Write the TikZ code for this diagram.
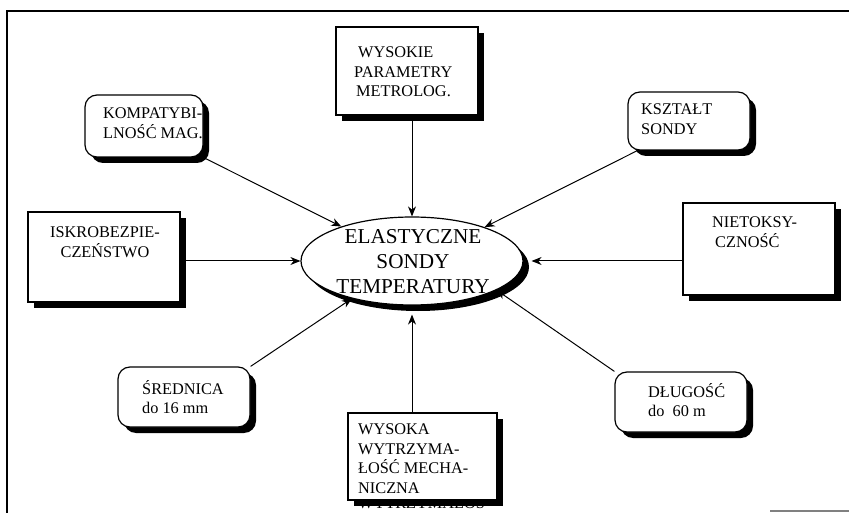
\documentclass[tikz,border=0pt]{standalone}
\usepackage{fontspec}
\setmainfont{Liberation Serif}
\usetikzlibrary{shadows,arrows.meta,shapes.geometric}
\begin{document}
\begin{tikzpicture}[x=1pt,y=-1pt,
  shadowed/.style={drop shadow={shadow xshift=6pt,shadow yshift=-6pt,fill=black,opacity=1}},
  sqbox/.style={draw=black,line width=1.2pt,fill=white,shadowed,rectangle,inner sep=0pt},
  rbox/.style={sqbox,rounded corners=12pt},
  lbl/.style={font=\fontsize{16.3}{19.5}\selectfont,inner sep=0pt},
  conn/.style={line width=1pt,-{Stealth[length=10pt,width=8pt]}},
  frameline/.style={line width=1.4pt}]
\useasboundingbox (0,0) rectangle (849,513);
% frame
\coordinate (ftr) at (849,11);
\coordinate (ftl) at (7,11);
\coordinate (fbl) at (7,513);
\draw[frameline] (ftr) -- (ftl) -- (fbl);
\coordinate (gb1) at (770,511);
\coordinate (gb2) at (849,511);
\draw[line width=1.2pt,gray] (gb1) -- (gb2);

% partly hidden line under the bottom box (drawn first, covered by the box)
\node[lbl,anchor=west] (hidden) at (358,502) {WYTRZYMAŁOŚ};

% boxes
\node[sqbox,minimum width=142pt,minimum height=88pt] (topb) at (407,71) {};
\node[lbl,align=left,anchor=west] (topt) at (354,72) {\hspace{4pt}WYSOKIE\\PARAMETRY\\\hspace{2pt}METROLOG.};

\node[rbox,minimum width=118pt,minimum height=62pt] (komp) at (144,126) {};
\node[lbl,align=left,anchor=west] (kompt) at (103,123) {KOMPATYBI-\\LNOŚĆ MAG.};

\node[rbox,minimum width=122pt,minimum height=58pt] (ksz) at (689,121) {};
\node[lbl,align=left,anchor=west] (kszt) at (641,119) {KSZTAŁT\\SONDY};

\node[sqbox,minimum width=152pt,minimum height=90pt] (iskro) at (104,257) {};
\node[lbl,align=center] (iskrot) at (105,242) {ISKROBEZPIE-\\CZEŃSTWO};

\node[sqbox,minimum width=152pt,minimum height=92pt] (niet) at (759,249) {};
\node[lbl,align=left,anchor=west] (niett) at (712,232) {NIETOKSY-\\\hspace{3pt}CZNOŚĆ};

\node[rbox,minimum width=132pt,minimum height=60pt] (sred) at (184,397) {};
\node[lbl,align=left,anchor=west] (sredt) at (142,397) {ŚREDNICA\\do 16 mm};

\node[rbox,minimum width=132pt,minimum height=60pt] (dlug) at (681,402) {};
\node[lbl,align=left,anchor=west] (dlugt) at (648,400) {DŁUGOŚĆ\\do\ \ 60 m};

\node[sqbox,minimum width=149pt,minimum height=87pt] (bot) at (422.5,456.5) {};
\node[lbl,align=left,anchor=west] (bott) at (358,458.5) {WYSOKA\\WYTRZYMA-\\ŁOŚĆ MECHA-\\NICZNA};

% central ellipse
\node[ellipse,draw=black,line width=1.2pt,fill=white,shadowed,minimum width=222pt,minimum height=88pt,inner sep=0pt] (ell) at (412,261) {};
\node[font=\fontsize{21.2}{25}\selectfont,align=center,inner sep=0pt] (ellt) at (413,262) {ELASTYCZNE\\SONDY\\TEMPERATURY};

% connectors
\draw[conn] (topb.south -| ell.north) -- (ell.north);
\draw[conn] (komp.south east) -- (ell.154);
\draw[conn] ([xshift=10pt]ksz.south west) -- (ell.25);
\draw[conn] (iskro.east |- ell.west) -- (ell.west);
\draw[conn] (niet.west |- ell.east) -- ([xshift=8pt]ell.east);
\draw[conn] (sred.north east) -- (ell.212);
\draw[conn] (dlug.north west) -- (ell.-19);
\draw[conn] (ell.south |- bot.north) -- ([yshift=-9pt]ell.south);
\end{tikzpicture}
\end{document}
